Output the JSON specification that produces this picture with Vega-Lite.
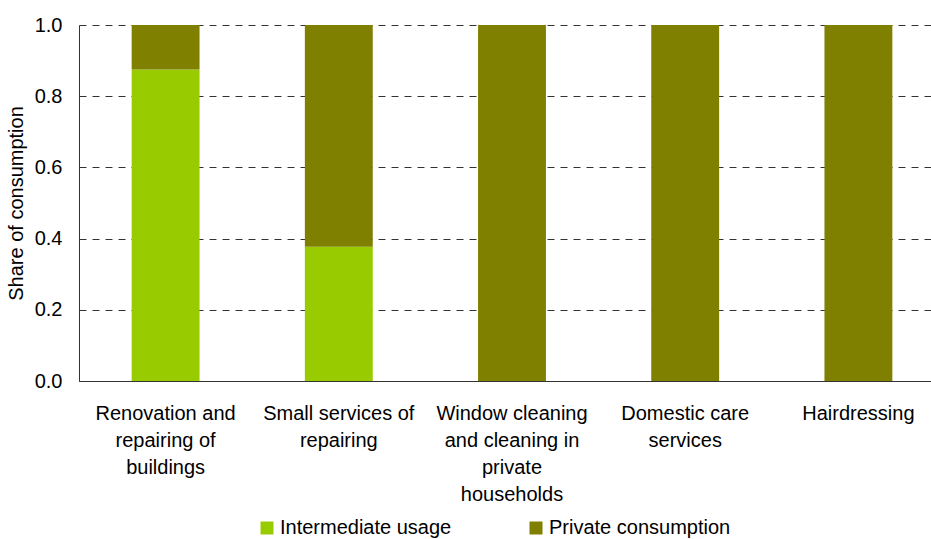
{
  "$schema": "https://vega.github.io/schema/vega-lite/v6.json",
  "width": 866,
  "height": 356,
  "autosize": "none",
  "padding": {"left": 79, "top": 25, "right": 0, "bottom": 158},
  "background": "white",
  "config": {
    "font": "Liberation Sans",
    "view": {"stroke": null}
  },
  "data": {
    "values": [
      {"category": "Renovation and repairing of buildings", "type": "Intermediate usage", "share": 0.875},
      {"category": "Renovation and repairing of buildings", "type": "Private consumption", "share": 0.125},
      {"category": "Small services of repairing", "type": "Intermediate usage", "share": 0.377},
      {"category": "Small services of repairing", "type": "Private consumption", "share": 0.623},
      {"category": "Window cleaning and cleaning in private households", "type": "Intermediate usage", "share": 0.0},
      {"category": "Window cleaning and cleaning in private households", "type": "Private consumption", "share": 1.0},
      {"category": "Domestic care services", "type": "Intermediate usage", "share": 0.0},
      {"category": "Domestic care services", "type": "Private consumption", "share": 1.0},
      {"category": "Hairdressing", "type": "Intermediate usage", "share": 0.0},
      {"category": "Hairdressing", "type": "Private consumption", "share": 1.0}
    ]
  },
  "mark": {"type": "bar"},
  "encoding": {
    "x": {
      "field": "category",
      "type": "nominal",
      "sort": null,
      "scale": {"paddingInner": 0.608, "paddingOuter": 0.304},
      "axis": {
        "title": null,
        "labelAngle": 0,
        "labelFontSize": 20,
        "labelColor": "#000000",
        "labelLineHeight": 27,
        "labelPadding": 22,
        "labelLimit": 0,
        "ticks": false,
        "domainColor": "#333333",
        "domainWidth": 1,
        "labelExpr": "({'Renovation and repairing of buildings': ['Renovation and', 'repairing of', 'buildings'], 'Small services of repairing': ['Small services of', 'repairing'], 'Window cleaning and cleaning in private households': ['Window cleaning', 'and cleaning in', 'private', 'households'], 'Domestic care services': ['Domestic care', 'services'], 'Hairdressing': ['Hairdressing']})[datum.value]"
      }
    },
    "y": {
      "field": "share",
      "type": "quantitative",
      "stack": "zero",
      "scale": {"domain": [0, 1], "nice": false},
      "axis": {
        "title": "Share of consumption",
        "titleFontSize": 20,
        "titleFontWeight": "normal",
        "titleColor": "#000000",
        "titlePadding": 8,
        "values": [0, 0.2, 0.4, 0.6, 0.8, 1.0],
        "format": ".1f",
        "labelFontSize": 20,
        "labelColor": "#000000",
        "labelPadding": 17,
        "ticks": false,
        "domainColor": "#333333",
        "grid": true,
        "gridColor": "#333333",
        "gridDash": [7, 6],
        "gridWidth": 1
      }
    },
    "color": {
      "field": "type",
      "type": "nominal",
      "scale": {"domain": ["Intermediate usage", "Private consumption"], "range": ["#99CC00", "#808000"]},
      "legend": {
        "title": null,
        "orient": "none",
        "direction": "horizontal",
        "columns": 2,
        "legendX": 178,
        "legendY": 493,
        "symbolType": "square",
        "symbolSize": 169,
        "symbolStrokeWidth": 0,
        "symbolOpacity": 1,
        "labelFontSize": 20,
        "labelColor": "#000000",
        "labelOffset": 3,
        "columnPadding": 74,
        "labelLimit": 0
      }
    },
    "order": {"field": "type", "sort": "ascending"}
  }
}
